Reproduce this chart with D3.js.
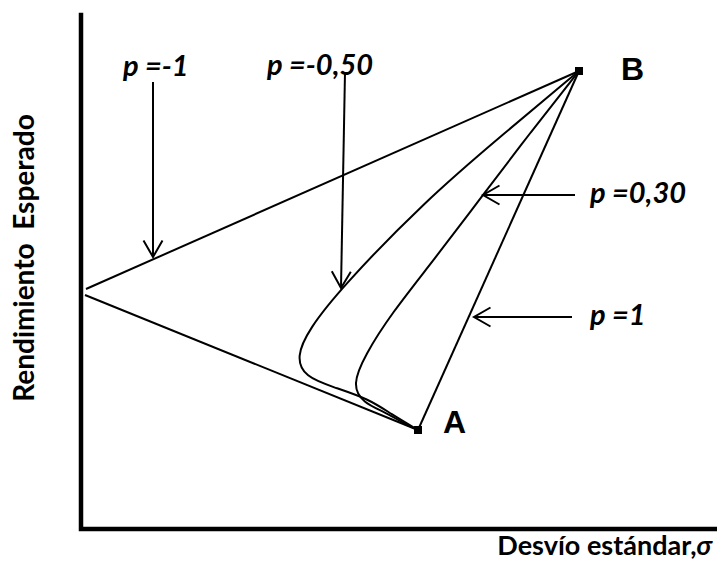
<!DOCTYPE html>
<html>
<head>
<meta charset="utf-8">
<script src="https://cdn.jsdelivr.net/npm/d3@7"></script>
<style>
  html, body { margin: 0; padding: 0; background: #fff; }
  svg { display: block; }
</style>
</head>
<body>
<svg id="chart"></svg>
<script>
// puntos de los activos (desvío, rendimiento) en unidades del gráfico
const assetA = [16.85, 4.95];
const assetB = [24.9, 22.9];

// p = -1 : dos rectas que tocan el eje
const rhoNeg1Upper = [[0.25, 12.0], assetB];
const rhoNeg1Lower = [[0.2, 11.7], assetA];

// p = 1 : recta A-B
const rhoPos1 = [assetA, assetB];

// p = -0,50
const rhoNeg050 = [
  assetB, [21.0, 19.65], [17.2, 16.4], [13.0, 12.05], [11.4, 10.0],
  [10.75, 8.6], [11.2, 7.6], [12.6, 7.1], [14.4, 6.5], [15.5, 5.75], assetA
];

// p = 0,30
const rhoPos030 = [
  assetB, [22.45, 19.8], [20.1, 16.7], [17.6, 13.4], [15.5, 10.75],
  [14.2, 8.7], [13.55, 7.2], [14.1, 6.3], [15.2, 5.85], [16.1, 5.3], assetA
];

// flechas y etiquetas de correlación
const arrowLabels = ["p =-1", "p =-0,50", "p =0,30", "p =1"];
const arrowFrom = [[3.6, 22.35], [13.2, 22.85], [24.7, 16.7], [24.55, 10.6]];
const arrowTo   = [[3.6, 13.6], [13.0, 12.05], [20.1, 16.7], [19.65, 10.6]];
const labelAt   = [[2.1, 22.65], [9.3, 22.7], [25.45, 16.3], [25.45, 10.2]];

const pointNames = ["A", "B"];
const pointLabelAt = [[18.1, 4.8], [27.0, 22.45]];

const W = 717, H = 565;
const margin = { top: 15, right: 0, bottom: 36, left: 81 };

const svg = d3.select("#chart").attr("width", W).attr("height", H);

const x = d3.scaleLinear().domain([0, 31.8]).range([margin.left, W - margin.right]);
const y = d3.scaleLinear().domain([0, 25.7]).range([H - margin.bottom, margin.top]);

const line = d3.line().x(d => x(d[0])).y(d => y(d[1]));
const smooth = d3.line().x(d => x(d[0])).y(d => y(d[1])).curve(d3.curveBasis);

// punta de flecha abierta
svg.append("defs").append("marker")
  .attr("id", "head")
  .attr("markerUnits", "userSpaceOnUse")
  .attr("markerWidth", 30).attr("markerHeight", 30)
  .attr("refX", 0).attr("refY", 0)
  .attr("viewBox", "-20 -15 25 30")
  .attr("orient", "auto")
  .append("path")
  .attr("d", "M-16.5,-9.5 L0,0 L-16.5,9.5")
  .attr("fill", "none")
  .attr("stroke", "#000")
  .attr("stroke-width", 2);

// ejes
svg.append("path")
  .attr("d", `M${x(0)},${y.range()[1]} L${x(0)},${y(0)} L${x.range()[1]},${y(0)}`)
  .attr("fill", "none")
  .attr("stroke", "#000")
  .attr("stroke-width", 4.5)
  .attr("stroke-linejoin", "miter")
  .attr("stroke-linecap", "square");

// fronteras
const g = svg.append("g")
  .attr("fill", "none")
  .attr("stroke", "#000")
  .attr("stroke-width", 2);

g.append("path").attr("d", line(rhoNeg1Upper));
g.append("path").attr("d", line(rhoNeg1Lower));
g.append("path").attr("d", line(rhoPos1));
g.append("path").attr("d", smooth(rhoNeg050));
g.append("path").attr("d", smooth(rhoPos030));

// flechas
arrowLabels.forEach((lab, i) => {
  svg.append("line")
    .attr("x1", x(arrowFrom[i][0])).attr("y1", y(arrowFrom[i][1]))
    .attr("x2", x(arrowTo[i][0])).attr("y2", y(arrowTo[i][1]))
    .attr("stroke", "#000")
    .attr("stroke-width", 2)
    .attr("marker-end", "url(#head)");

  svg.append("text")
    .attr("x", x(labelAt[i][0]))
    .attr("y", y(labelAt[i][1]))
    .style("font-family", "Lato, sans-serif")
    .style("font-weight", "bold")
    .style("font-style", "italic")
    .style("font-size", "29px")
    .text(lab);
});

// marcadores A y B
svg.selectAll(".pt")
  .data([assetA, assetB])
  .enter().append("rect")
  .attr("class", "pt")
  .attr("x", d => x(d[0]) - 4)
  .attr("y", d => y(d[1]) - 4)
  .attr("width", 8)
  .attr("height", 8)
  .attr("fill", "#000");

pointNames.forEach((n, i) => {
  svg.append("text")
    .attr("x", x(pointLabelAt[i][0]))
    .attr("y", y(pointLabelAt[i][1]))
    .style("font-family", "Liberation Sans, Arial, sans-serif")
    .style("font-weight", "bold")
    .style("font-size", "32px")
    .text(n);
});

// títulos de ejes
const xTitle = svg.append("text")
  .attr("x", 712)
  .attr("y", 555)
  .attr("text-anchor", "end")
  .style("font-family", "Lato, sans-serif")
  .style("font-weight", "bold")
  .style("font-size", "27px")
  .text("Desvío estándar,");
xTitle.append("tspan")
  .style("font-style", "italic")
  .text("σ");

svg.append("text")
  .attr("transform", "translate(34,258) rotate(-90)")
  .attr("text-anchor", "middle")
  .style("font-family", "Lato, sans-serif")
  .style("font-weight", "bold")
  .style("font-size", "28px")
  .style("white-space", "pre")
  .text("Rendimiento  Esperado");
</script>
</body>
</html>
